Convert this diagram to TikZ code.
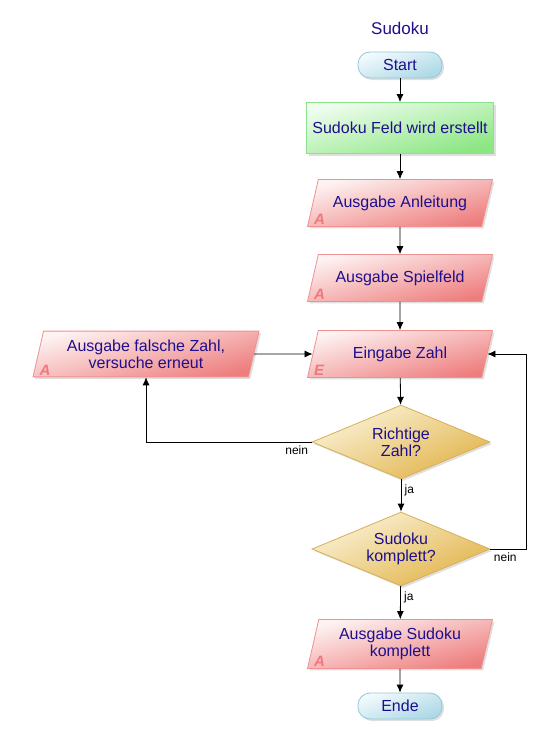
\documentclass[tikz,border=0pt]{standalone}
\usepackage{fontspec}
\setmainfont{Liberation Sans}
\usetikzlibrary{shapes.geometric, arrows.meta, shadows}

\definecolor{textblue}{RGB}{30,15,140}
\definecolor{termlight}{RGB}{242,250,253}
\definecolor{termdark}{RGB}{172,216,230}
\definecolor{termedge}{RGB}{150,198,215}
\definecolor{proclight}{RGB}{238,253,238}
\definecolor{procdark}{RGB}{140,230,130}
\definecolor{procedge}{RGB}{140,225,140}
\definecolor{iolight}{RGB}{254,242,242}
\definecolor{iodark}{RGB}{238,125,125}
\definecolor{ioedge}{RGB}{240,145,145}
\definecolor{iotext}{RGB}{238,120,125}
\definecolor{declight}{RGB}{251,242,215}
\definecolor{decdark}{RGB}{225,180,75}
\definecolor{decedge}{RGB}{215,175,85}

\tikzset{
    box/.style={font=\fontsize{16}{17}\selectfont, text=textblue, align=center,
        line width=0.8pt,
        drop shadow={opacity=0.25, shadow xshift=2pt, shadow yshift=-2pt}},
    terminal/.style={box, rectangle, rounded corners=12pt, minimum width=84pt,
        minimum height=26pt, draw=termedge, top color=termlight, bottom color=termdark,
        shading angle=20},
    process/.style={box, rectangle, minimum width=187pt, minimum height=51pt,
        draw=procedge, top color=proclight, bottom color=procdark, shading angle=15},
    io/.style={box, trapezium, trapezium left angle=77, trapezium right angle=103,
        trapezium stretches body, minimum width=185pt, inner ysep=16pt,
        draw=ioedge, top color=iolight, bottom color=iodark, shading angle=15},
    iotwo/.style={io, inner ysep=8.5pt},
    decision/.style={box, diamond, aspect=2.4, inner sep=0pt, minimum width=178pt,
        minimum height=74pt, draw=decedge, top color=declight, bottom color=decdark,
        shading angle=25},
    iotag/.style={font=\bfseries\itshape\fontsize{15}{15}\selectfont, text=iotext,
        anchor=south west, inner sep=1pt},
    lbl/.style={font=\fontsize{12}{14}\selectfont, text=black},
    line/.style={draw=black, line width=0.8pt, -{Latex[length=8pt,width=7pt]}}
}

\begin{document}
\begin{tikzpicture}[x=1pt, y=-1pt]

    \useasboundingbox (0, 0) rectangle (550, 744);

    %% Sudoku flow chart

    % Title
    \node [font=\fontsize{17}{18}\selectfont, text=textblue] (title) at (400, 28) {Sudoku};

    % Main column
    \node [terminal] (start) at (400, 65) {Start};
    \node [process] (feld) at (400, 128) {Sudoku Feld wird erstellt};
    \node [io] (anleitung) at (400, 203) {Ausgabe Anleitung};
    \node [io] (spielfeld) at (400, 278) {Ausgabe Spielfeld};
    \node [io] (eingabe) at (400, 354) {Eingabe Zahl};
    \node [decision] (richtig) at (401, 442) {Richtige\\Zahl?};
    \node [decision] (komplett) at (401, 549) {Sudoku\\komplett?};
    \node [iotwo] (ausgabekomplett) at (400, 644) {Ausgabe Sudoku\\komplett};
    \node [terminal] (ende) at (400, 706) {Ende};

    % Error output
    \node [iotwo, minimum width=226pt] (falsch) at (146, 354) {Ausgabe falsche Zahl,\\versuche erneut};

    % Tags
    \node [iotag] (tagA1) at ([xshift=6pt, yshift=1pt]anleitung.bottom left corner) {A};
    \node [iotag] (tagA2) at ([xshift=6pt, yshift=1pt]spielfeld.bottom left corner) {A};
    \node [iotag] (tagE) at ([xshift=6pt, yshift=1pt]eingabe.bottom left corner) {E};
    \node [iotag] (tagA3) at ([xshift=6pt, yshift=1pt]falsch.bottom left corner) {A};
    \node [iotag] (tagA4) at ([xshift=6pt, yshift=1pt]ausgabekomplett.bottom left corner) {A};

    % Connectors
    \draw [line] (start) -- (feld);
    \draw [line] (feld) -- (anleitung);
    \draw [line] (anleitung) -- (spielfeld);
    \draw [line] (spielfeld) -- (eingabe);
    \draw [line] (eingabe) -- (richtig);
    \draw [line] (richtig) -- node [lbl, right, pos=0.35] (ja1) {ja} (komplett);
    \draw [line] (komplett) -- node [lbl, right, pos=0.35] (ja2) {ja} (ausgabekomplett);
    \draw [line] (ausgabekomplett) -- (ende);
    \draw [line] (falsch.east) -- (eingabe.west);

    % Wrong number
    \draw [line] (richtig.west) -| (falsch.south);
    \node [lbl, below left] (nein1) at (richtig.west) {nein};

    % Not complete
    \coordinate (loop) at (526, 549);
    \draw [line] (komplett.east) -- (loop) |- (eingabe.east);
    \node [lbl, below right] (nein2) at (komplett.east) {nein};

\end{tikzpicture}
\end{document}
